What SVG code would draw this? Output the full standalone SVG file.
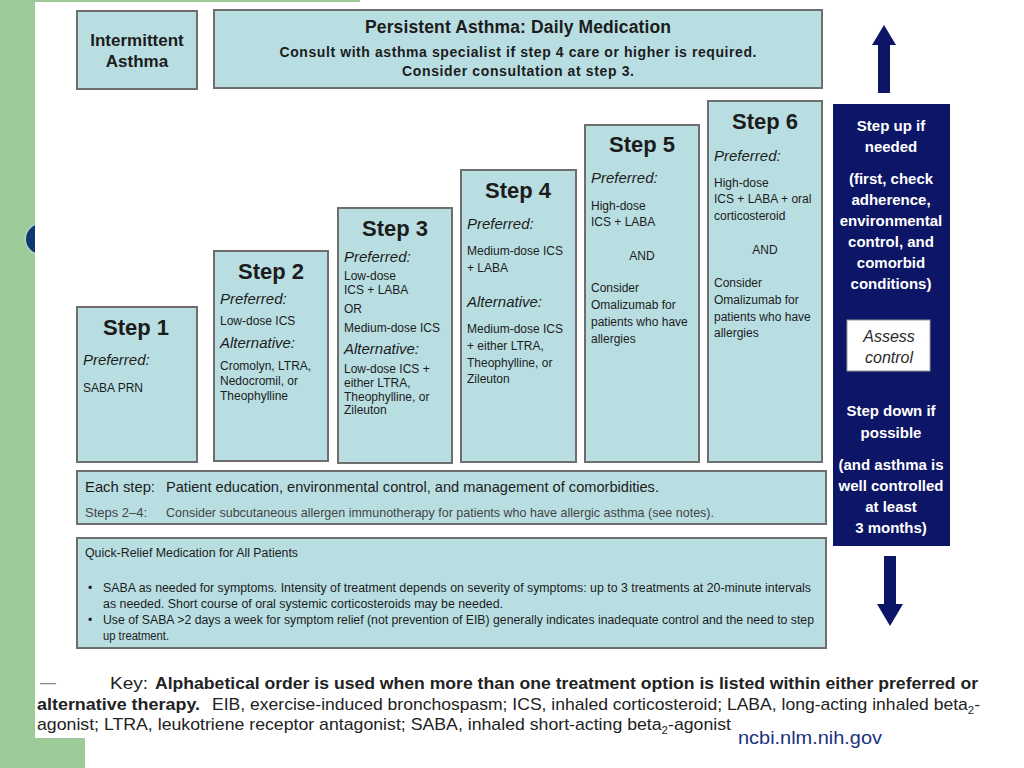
<svg xmlns="http://www.w3.org/2000/svg" width="1024" height="768" viewBox="0 0 1024 768">
<style>
  text { font-family: "Liberation Sans", Arial, Helvetica, sans-serif; fill: #1c1c1c; }
  .box { fill: #b9dee2; stroke: #6e6e6e; stroke-width: 2; }
  .hdr { font-weight: bold; }
  .stepT { font-weight: bold; font-size: 22px; text-anchor: middle; }
  .lab { font-style: italic; font-size: 15px; }
  .body { font-size: 12px; }
  .mid { text-anchor: middle; }
  .wt { fill: #ffffff; font-weight: bold; font-size: 15px; text-anchor: middle; }
  .key { font-size: 17px; fill: #222; }
  .b { font-weight: bold; }
  .sub { font-size: 11px; }
</style>
<!-- slide background -->
<rect x="0" y="0" width="1024" height="768" fill="#ffffff"/>
<rect x="0" y="0" width="35" height="768" fill="#9dcb97"/>
<rect x="0" y="738" width="85" height="30" fill="#9dcb97"/>
<rect x="35" y="0" width="325" height="2" fill="#9dcb97"/>
<circle cx="41" cy="239" r="17" fill="#a9d3b9"/>
<circle cx="41" cy="239" r="15" fill="#0d3a6e"/>
<rect x="35" y="2" width="965" height="736" fill="#ffffff"/>

<g id="intermittent">
  <rect class="box" x="77" y="11" width="120" height="78"/>
  <text class="hdr mid" x="137" y="46" font-size="17">Intermittent</text>
  <text class="hdr mid" x="137" y="67" font-size="17">Asthma</text>
</g>

<g id="persistent">
  <rect class="box" x="214" y="10" width="608" height="78"/>
  <text class="hdr mid" x="518" y="33" font-size="17.5" textLength="306">Persistent Asthma: Daily Medication</text>
  <text class="hdr mid" x="518" y="57" font-size="14" textLength="477">Consult with asthma specialist if step 4 care or higher is required.</text>
  <text class="hdr mid" x="518" y="76" font-size="14" textLength="232">Consider consultation at step 3.</text>
</g>

<g id="step1">
  <rect class="box" x="77" y="307" width="120" height="155"/>
  <text class="stepT" x="136" y="335">Step 1</text>
  <text class="lab" x="83" y="365">Preferred:</text>
  <text class="body" x="83" y="392">SABA PRN</text>
</g>

<g id="step2">
  <rect class="box" x="214" y="251" width="114" height="210"/>
  <text class="stepT" x="271" y="279">Step 2</text>
  <text class="lab" x="220" y="304">Preferred:</text>
  <text class="body" x="220" y="325">Low-dose ICS</text>
  <text class="lab" x="220" y="348">Alternative:</text>
  <text class="body" x="220" y="370">Cromolyn, LTRA,</text>
  <text class="body" x="220" y="385">Nedocromil, or</text>
  <text class="body" x="220" y="400">Theophylline</text>
</g>

<g id="step3">
  <rect class="box" x="338" y="208" width="114" height="255"/>
  <text class="stepT" x="395" y="236">Step 3</text>
  <text class="lab" x="344" y="262">Preferred:</text>
  <text class="body" x="344" y="280">Low-dose</text>
  <text class="body" x="344" y="294">ICS + LABA</text>
  <text class="body" x="344" y="313">OR</text>
  <text class="body" x="344" y="332">Medium-dose ICS</text>
  <text class="lab" x="344" y="354">Alternative:</text>
  <text class="body" x="344" y="373">Low-dose ICS +</text>
  <text class="body" x="344" y="387">either LTRA,</text>
  <text class="body" x="344" y="401">Theophylline, or</text>
  <text class="body" x="344" y="414">Zileuton</text>
</g>

<g id="step4">
  <rect class="box" x="461" y="170" width="115" height="292"/>
  <text class="stepT" x="518" y="198">Step 4</text>
  <text class="lab" x="467" y="229">Preferred:</text>
  <text class="body" x="467" y="255">Medium-dose ICS</text>
  <text class="body" x="467" y="272">+ LABA</text>
  <text class="lab" x="467" y="307">Alternative:</text>
  <text class="body" x="467" y="333">Medium-dose ICS</text>
  <text class="body" x="467" y="350">+ either LTRA,</text>
  <text class="body" x="467" y="367">Theophylline, or</text>
  <text class="body" x="467" y="383">Zileuton</text>
</g>

<g id="step5">
  <rect class="box" x="585" y="125" width="114" height="337"/>
  <text class="stepT" x="642" y="152">Step 5</text>
  <text class="lab" x="591" y="183">Preferred:</text>
  <text class="body" x="591" y="210">High-dose</text>
  <text class="body" x="591" y="226">ICS + LABA</text>
  <text class="body mid" x="642" y="260">AND</text>
  <text class="body" x="591" y="292">Consider</text>
  <text class="body" x="591" y="309">Omalizumab for</text>
  <text class="body" x="591" y="326">patients who have</text>
  <text class="body" x="591" y="343">allergies</text>
</g>

<g id="step6">
  <rect class="box" x="708" y="101" width="114" height="361"/>
  <text class="stepT" x="765" y="129">Step 6</text>
  <text class="lab" x="714" y="161">Preferred:</text>
  <text class="body" x="714" y="187">High-dose</text>
  <text class="body" x="714" y="203">ICS + LABA + oral</text>
  <text class="body" x="714" y="220">corticosteroid</text>
  <text class="body mid" x="765" y="254">AND</text>
  <text class="body" x="714" y="287">Consider</text>
  <text class="body" x="714" y="304">Omalizumab for</text>
  <text class="body" x="714" y="321">patients who have</text>
  <text class="body" x="714" y="337">allergies</text>
</g>

<g id="eachstep">
  <rect class="box" x="77" y="471" width="749" height="53"/>
  <text x="85" y="492" font-size="15" textLength="70" lengthAdjust="spacingAndGlyphs">Each step:</text>
  <text x="166" y="492" font-size="15" textLength="493" lengthAdjust="spacingAndGlyphs">Patient education, environmental control, and management of comorbidities.</text>
  <text x="85" y="517" font-size="13" style="fill:#444" textLength="62" lengthAdjust="spacingAndGlyphs">Steps 2–4:</text>
  <text x="166" y="517" font-size="13" style="fill:#444" textLength="548" lengthAdjust="spacingAndGlyphs">Consider subcutaneous allergen immunotherapy for patients who have allergic asthma (see notes).</text>
</g>

<g id="quickrelief">
  <rect class="box" x="77" y="538" width="749" height="110"/>
  <text x="85" y="557" font-size="12.5" textLength="213" lengthAdjust="spacingAndGlyphs">Quick-Relief Medication for All Patients</text>
  <text x="88" y="592" font-size="12">•</text>
  <text x="103" y="592" font-size="12.5" textLength="708" lengthAdjust="spacingAndGlyphs">SABA as needed for symptoms. Intensity of treatment depends on severity of symptoms: up to 3 treatments at 20-minute intervals</text>
  <text x="103" y="608" font-size="12.5" textLength="400" lengthAdjust="spacingAndGlyphs">as needed.  Short course of oral systemic corticosteroids may be needed.</text>
  <text x="88" y="624" font-size="12">•</text>
  <text x="103" y="624" font-size="12.5" textLength="711" lengthAdjust="spacingAndGlyphs">Use of SABA &gt;2 days a week for symptom relief (not prevention of EIB) generally indicates inadequate control and the need to step</text>
  <text x="103" y="640" font-size="12.5" textLength="66" lengthAdjust="spacingAndGlyphs">up treatment.</text>
</g>

<g id="stepupdown">
  <rect x="833" y="104" width="117" height="442" fill="#0c1566"/>
  <text class="wt" x="891" y="131">Step up if</text>
  <text class="wt" x="891" y="152">needed</text>
  <text class="wt" x="891" y="184">(first, check</text>
  <text class="wt" x="891" y="205">adherence,</text>
  <text class="wt" x="891" y="226">environmental</text>
  <text class="wt" x="891" y="247">control, and</text>
  <text class="wt" x="891" y="268">comorbid</text>
  <text class="wt" x="891" y="289">conditions)</text>
  <text class="wt" x="891" y="416">Step down if</text>
  <text class="wt" x="891" y="438">possible</text>
  <text class="wt" x="891" y="470">(and asthma is</text>
  <text class="wt" x="891" y="491">well controlled</text>
  <text class="wt" x="891" y="512">at least</text>
  <text class="wt" x="891" y="533">3 months)</text>
</g>

<g id="assess">
  <rect x="847" y="320" width="83" height="51" fill="#ffffff" stroke="#9a9a9a" stroke-width="1"/>
  <text class="mid" x="889" y="342" font-size="16" font-style="italic" style="fill:#2a2a2a">Assess</text>
  <text class="mid" x="889" y="363" font-size="16" font-style="italic" style="fill:#2a2a2a">control</text>
</g>

<g id="connectors">
  <polygon points="884,25 896,45 890,45 890,93 878,93 878,45 872,45" fill="#0c1566"/>
  <polygon points="884,556 896,556 896,604 903,604 890,626 877,604 884,604" fill="#0c1566"/>
</g>

<g id="key">
  <text x="40" y="688" font-size="16" style="fill:#888">—</text>
  <text class="key" x="110" y="689" textLength="38" lengthAdjust="spacingAndGlyphs">Key:</text>
  <text class="key b" x="155" y="689" textLength="823" lengthAdjust="spacingAndGlyphs">Alphabetical order is used when more than one treatment option is listed within either preferred or</text>
  <text class="key b" x="37" y="710" textLength="163" lengthAdjust="spacingAndGlyphs">alternative therapy.</text>
  <text class="key" x="212" y="710" textLength="768" lengthAdjust="spacingAndGlyphs">EIB, exercise-induced bronchospasm; ICS, inhaled corticosteroid; LABA, long-acting inhaled beta<tspan class="sub" dy="4">2</tspan><tspan dy="-4">-</tspan></text>
  <text class="key" x="37" y="730" textLength="694" lengthAdjust="spacingAndGlyphs">agonist; LTRA, leukotriene receptor antagonist; SABA, inhaled short-acting beta<tspan class="sub" dy="4">2</tspan><tspan dy="-4">-agonist</tspan></text>
</g>

<g id="source">
  <text x="738" y="744" font-size="18" style="fill:#1c3180" textLength="144" lengthAdjust="spacingAndGlyphs">ncbi.nlm.nih.gov</text>
</g>
</svg>
